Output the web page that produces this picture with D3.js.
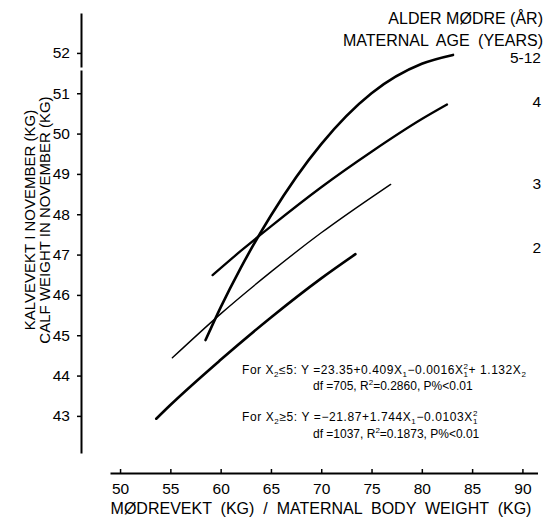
<!DOCTYPE html>
<html>
<head>
<meta charset="utf-8">
<script src="https://cdn.jsdelivr.net/npm/d3@7"></script>
<style>
    body { margin: 0; background: #fff; }
    svg { display: block; font-family: "Liberation Sans", Arial, sans-serif; }
</style>
</head>
<body>
<svg id="chart"></svg>
<script>
    // curves: maternal weight (kg) -> calf weight (kg)
    var ageLabels = ["5-12", "4", "3", "2"];
    var curve512X = [58.5, 60, 62, 65, 70, 75, 80, 83.1];
    var curve512Y = [44.88, 45.69, 46.67, 47.97, 49.74, 51.0, 51.73, 51.95];
    var curve4X = [59.2, 62, 65, 70, 75, 80, 82.5];
    var curve4Y = [46.49, 47.09, 47.70, 48.67, 49.55, 50.36, 50.72];
    var curve3X = [55.2, 60, 65, 70, 75, 76.9];
    var curve3Y = [44.44, 45.53, 46.57, 47.54, 48.42, 48.74];
    var curve2X = [53.6, 55, 60, 65, 70, 73.4];
    var curve2Y = [42.93, 43.27, 44.39, 45.44, 46.41, 47.01];
    var xTicks = [50, 55, 60, 65, 70, 75, 80, 85, 90];
    var yTicks = [43, 44, 45, 46, 47, 48, 49, 50, 51, 52];

    var width = 544, height = 519;

    var svg = d3.select("#chart")
        .attr("width", width)
        .attr("height", height);

    var x = d3.scaleLinear().domain([49, 91.5]).range([110, 537.5]);
    var y = d3.scaleLinear().domain([42.08, 52.99]).range([453, 13]);

    // axes
    var xAxis = svg.append("g")
        .attr("transform", "translate(0,473)")
        .call(d3.axisBottom(x).tickValues(xTicks).tickSizeInner(-4).tickSizeOuter(0).tickPadding(10));
    var yAxis = svg.append("g")
        .attr("transform", "translate(81,0)")
        .call(d3.axisLeft(y).tickValues(yTicks).tickSizeInner(4).tickSizeOuter(0).tickPadding(7));

    [xAxis, yAxis].forEach(function (g) {
        g.select(".domain").attr("stroke", "#000").attr("stroke-width", 2);
        g.selectAll(".tick line").attr("stroke", "#000").attr("stroke-width", 1.5);
        g.selectAll(".tick text")
            .attr("fill", "#000")
            .attr("font-size", 15.5)
            .attr("font-family", "Liberation Sans, Arial, sans-serif");
    });
    // small break in the y axis just under 52
    yAxis.select(".domain").attr("stroke-dasharray", "383,3,100");

    // axis titles
    svg.append("text")
        .attr("x", 321)
        .attr("y", 514)
        .attr("text-anchor", "middle")
        .attr("font-size", 16)
        .attr("word-spacing", 4.5)
        .text("MØDREVEKT (KG) / MATERNAL BODY WEIGHT (KG)");

    var yTitle = svg.append("g").attr("transform", "translate(0,220) rotate(-90)");
    yTitle.append("text")
        .attr("x", 0).attr("y", 34.5)
        .attr("text-anchor", "middle")
        .attr("font-size", 15)
        .text("KALVEVEKT I NOVEMBER (KG)");
    yTitle.append("text")
        .attr("x", 0).attr("y", 49.5)
        .attr("text-anchor", "middle")
        .attr("font-size", 15)
        .text("CALF WEIGHT IN NOVEMBER (KG)");

    // regression curves
    var series = [
        { xs: curve512X, ys: curve512Y, w: 2.6 },
        { xs: curve4X, ys: curve4Y, w: 2.3 },
        { xs: curve3X, ys: curve3Y, w: 1.4 },
        { xs: curve2X, ys: curve2Y, w: 2.6 }
    ];

    var line = d3.line()
        .x(function (d) { return x(d[0]); })
        .y(function (d) { return y(d[1]); })
        .curve(d3.curveMonotoneX);

    svg.selectAll(".curve")
        .data(series)
        .enter()
        .append("path")
        .attr("class", "curve")
        .attr("fill", "none")
        .attr("stroke", "#000")
        .attr("stroke-width", function (d) { return d.w; })
        .attr("stroke-linecap", "round")
        .attr("d", function (d) { return line(d3.zip(d.xs, d.ys)); });

    // legend on the right
    svg.append("text")
        .attr("x", 543).attr("y", 24)
        .attr("text-anchor", "end").attr("font-size", 16)
        .text("ALDER MØDRE (ÅR)");
    svg.append("text")
        .attr("x", 543).attr("y", 46)
        .attr("text-anchor", "end").attr("font-size", 16)
        .attr("word-spacing", 4)
        .text("MATERNAL AGE (YEARS)");

    var labelY = [63, 107, 189, 253];
    svg.selectAll(".age")
        .data(ageLabels)
        .enter()
        .append("text")
        .attr("class", "age")
        .attr("x", 541)
        .attr("y", function (d, i) { return labelY[i]; })
        .attr("text-anchor", "end")
        .attr("font-size", 15.5)
        .text(function (d) { return d; });

    // equations: s = 0 normal, 1 subscript, 2 superscript, 3 superscript stacked on previous subscript
    function equation(px, py, parts, spacing) {
        var t = svg.append("text")
            .attr("x", px).attr("y", py)
            .attr("font-size", 12)
            .attr("letter-spacing", spacing);
        var cur = 0;
        parts.forEach(function (p) {
            var target = p[1] == 1 ? 3 : (p[1] >= 2 ? -5 : 0);
            var ts = t.append("tspan").attr("dy", target - cur).text(p[0]);
            if (p[1] > 0) ts.attr("font-size", 8);
            if (p[1] == 3) ts.attr("dx", -5);
            cur = target;
        });
    }

    equation(242, 374, [["For  X", 0], ["2", 1], ["≤5:  Y =23.35+0.409X", 0], ["1", 1],
        ["−0.0016X", 0], ["1", 1], ["2", 3], ["+ 1.132X", 0], ["2", 1]], 0.55);
    equation(313, 390, [["df =705,  R", 0], ["2", 2], ["=0.2860,  P%<0.01", 0]], 0);
    equation(242, 421, [["For  X", 0], ["2", 1], ["≥5:  Y =−21.87+1.744X", 0], ["1", 1],
        ["−0.0103X", 0], ["1", 1], ["2", 3]], 0.6);
    equation(313, 438, [["df =1037,  R", 0], ["2", 2], ["=0.1873,  P%<0.01", 0]], 0);
</script>
</body>
</html>
